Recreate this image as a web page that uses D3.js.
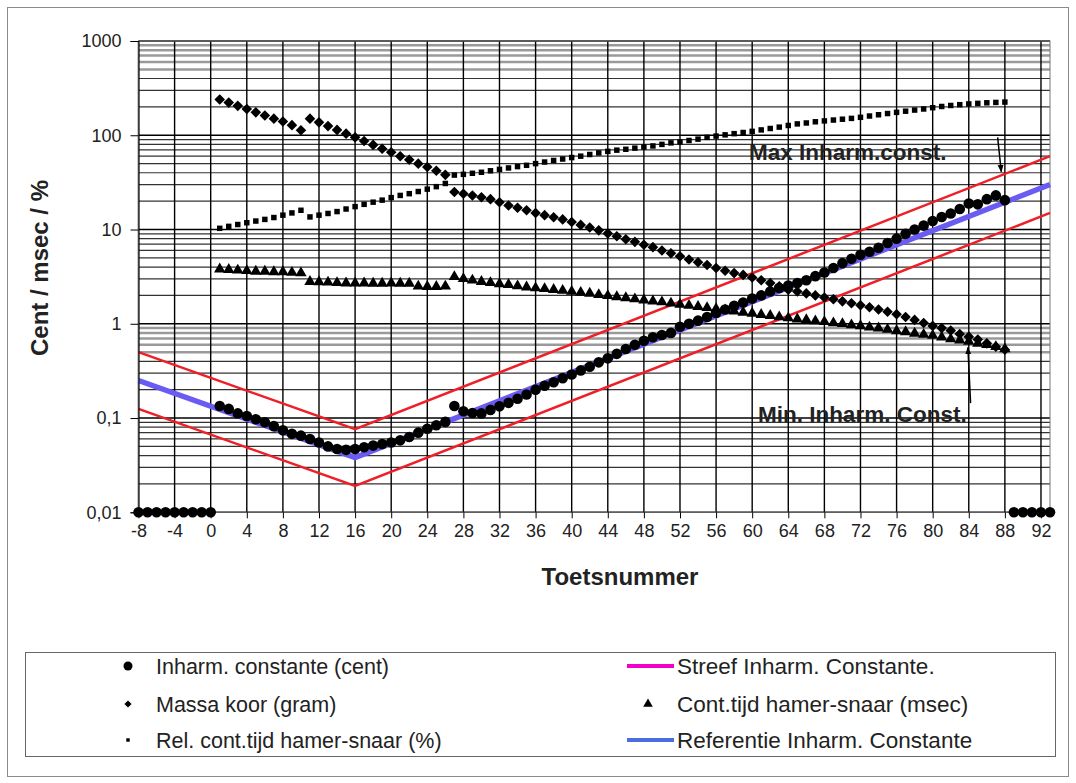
<!DOCTYPE html>
<meta charset="utf-8">
<script src="https://d3js.org/d3.v7.min.js"></script>
<style>
  body { margin: 0; background: #fff; }
  text { font-family: "Liberation Sans", Arial, sans-serif; }
</style>
<div id="chart"></div>
<script>

// key numbers 1..88 (Toetsnummer)
var keys = d3.range(1, 89);

// Inharm. constante (cent)
var inharm = [0.134, 0.125, 0.112, 0.105, 0.097, 0.09, 0.082, 0.074, 0.068, 0.065,
  0.06, 0.055, 0.05, 0.047, 0.046, 0.047, 0.049, 0.051, 0.053, 0.055,
  0.058, 0.063, 0.07, 0.077, 0.084, 0.091, 0.134, 0.118, 0.113, 0.112,
  0.122, 0.133, 0.145, 0.16, 0.178, 0.2, 0.22, 0.24, 0.265, 0.29,
  0.32, 0.35, 0.39, 0.43, 0.48, 0.54, 0.6, 0.66, 0.72, 0.76,
  0.8, 0.93, 1.0, 1.08, 1.18, 1.3, 1.42, 1.55, 1.68, 1.85,
  2.0, 2.2, 2.4, 2.55, 2.7, 2.9, 3.2, 3.5, 3.9, 4.4,
  4.9, 5.4, 5.8, 6.4, 7.2, 8.0, 9.0, 10.0, 11.0, 12.3,
  13.6, 14.8, 16.5, 18.9, 18.5, 21, 23, 20.5];
// keys without a value, drawn on the axis minimum
var inharmEmptyKeys = [-8, -7, -6, -5, -4, -3, -2, -1, 0, 89, 90, 91, 92, 93];

// Massa koor (gram)
var massa = [240, 222, 205, 190, 175, 162, 150, 140, 128, 113,
  150, 137, 125, 114, 104, 95, 87, 79, 72, 66,
  60, 55, 50, 46, 42, 38, 25, 24, 23, 22,
  21, 19.5, 18, 17, 16, 15, 14.2, 13.5, 12.8, 12,
  11.2, 10.5, 9.8, 9.1, 8.5, 7.9, 7.4, 6.9, 6.5, 6.0,
  5.6, 5.2, 4.8, 4.5, 4.2, 3.9, 3.65, 3.45, 3.3, 3.1,
  2.9, 2.7, 2.5, 2.3, 2.2, 2.1, 2.0, 1.9, 1.82, 1.73,
  1.65, 1.57, 1.5, 1.42, 1.34, 1.26, 1.18, 1.1, 1.02, 0.95,
  0.9, 0.85, 0.78, 0.73, 0.68, 0.62, 0.57, 0.53];

// Rel. cont.tijd hamer-snaar (%)
var relTijd = [10.3, 10.8, 11.3, 11.8, 12.3, 12.8, 13.4, 14.2, 15, 16,
  13.6, 14.2, 14.8, 15.5, 16.5, 17.5, 18.5, 19.5, 20.5, 21.8,
  23, 24, 25.3, 26.8, 28.5, 30.8, 37.8, 38.5, 39.5, 40.5,
  42, 43.5, 45, 46.5, 48, 50, 52, 54, 56, 58,
  60, 62.5, 65, 67.5, 69.5, 71, 73, 75, 77, 80,
  83, 85, 88, 91, 95, 98, 101, 104, 107, 110,
  114, 118, 122, 127, 132, 135, 139, 142, 145, 148,
  151, 155, 160, 165, 170, 175, 180, 185, 190, 196,
  202, 207, 211, 215, 218, 221, 223, 225];

// Cont.tijd hamer-snaar (msec)
var contTijd = [3.8, 3.75, 3.7, 3.65, 3.6, 3.6, 3.55, 3.55, 3.5, 3.45,
  2.8, 2.78, 2.76, 2.72, 2.7, 2.7, 2.7, 2.68, 2.68, 2.7,
  2.68, 2.68, 2.5, 2.48, 2.48, 2.5, 3.15, 3.0, 2.9, 2.8,
  2.72, 2.65, 2.6, 2.52, 2.45, 2.4, 2.35, 2.3, 2.25, 2.2,
  2.15, 2.1, 2.03, 1.98, 1.93, 1.88, 1.83, 1.78, 1.74, 1.7,
  1.65, 1.6, 1.56, 1.52, 1.48, 1.44, 1.4, 1.36, 1.32, 1.29,
  1.25, 1.22, 1.18, 1.15, 1.12, 1.1, 1.07, 1.05, 1.02, 1.0,
  0.97, 0.95, 0.92, 0.9, 0.87, 0.84, 0.82, 0.79, 0.77, 0.75,
  0.72, 0.69, 0.67, 0.65, 0.62, 0.6, 0.57, 0.54];

// Referentie / Streef lines (break points)
var refKeys = [-8, 16, 93];
var refValues = [0.25, 0.038, 30];
var streefMaxValues = [0.5, 0.076, 60];
var streefMinValues = [0.125, 0.019, 15];

// axis ticks
var xTicks = d3.range(-8, 93, 4);
var yTicks = [0.01, 0.1, 1, 10, 100, 1000];
var yTickLabels = ["0,01", "0,1", "1", "10", "100", "1000"];

var legendItems = [
  {label: "Inharm. constante (cent)", type: "circle", col: 0, row: 0},
  {label: "Massa koor  (gram)", type: "diamond", col: 0, row: 1},
  {label: "Rel. cont.tijd hamer-snaar (%)", type: "square", col: 0, row: 2},
  {label: "Streef Inharm. Constante.", type: "line", color: "#f000c8", col: 1, row: 0},
  {label: "Cont.tijd hamer-snaar (msec)", type: "triangle", col: 1, row: 1},
  {label: "Referentie Inharm. Constante", type: "line", color: "#4a6ee0", col: 1, row: 2}
];

var W = 1076, H = 783;
var plot = {left: 138.5, right: 1050, top: 41, bottom: 512.3};

var svg = d3.select("#chart").append("svg")
  .attr("width", W).attr("height", H);

// outer frame
svg.append("rect")
  .attr("x", 7.5).attr("y", 7.5).attr("width", 1061).attr("height", 769)
  .attr("fill", "#fff").attr("stroke", "#8a8a8a");

var x = d3.scaleLinear().domain([-8, 93]).range([plot.left, plot.right]);
var y = d3.scaleLog().domain([0.01, 1000]).range([plot.bottom, plot.top]);

var g = svg.append("g");

// minor horizontal grid (the upper lines of some decades look grey)
var minor = [];
[0.01, 0.1, 1, 10, 100].forEach(function(dec) {
  for (var m = 2; m <= 9; m++) minor.push({v: dec * m, grey: m >= 5 && (dec === 0.1 || dec === 100)});
});
g.selectAll(".minor").data(minor).enter().append("line")
  .attr("x1", plot.left).attr("x2", plot.right)
  .attr("y1", function(d) { return y(d.v); }).attr("y2", function(d) { return y(d.v); })
  .attr("stroke", function(d) { return d.grey ? "#9a9a9a" : "#333"; })
  .attr("stroke-width", function(d) { return d.grey ? 2.5 : 1.2; });

// major horizontal grid
g.selectAll(".major").data(yTicks).enter().append("line")
  .attr("x1", plot.left).attr("x2", plot.right)
  .attr("y1", function(d) { return y(d); }).attr("y2", function(d) { return y(d); })
  .attr("stroke", "#000").attr("stroke-width", 1.4);

// vertical grid
g.selectAll(".vgrid").data(xTicks).enter().append("line")
  .attr("x1", function(d) { return x(d); }).attr("x2", function(d) { return x(d); })
  .attr("y1", plot.top).attr("y2", plot.bottom)
  .attr("stroke", "#000").attr("stroke-width", 1.4);

// plot border
g.append("rect")
  .attr("x", plot.left).attr("y", plot.top)
  .attr("width", plot.right - plot.left).attr("height", plot.bottom - plot.top)
  .attr("fill", "none").attr("stroke", "#777");

// axes
var xAxis = svg.append("g")
  .attr("transform", "translate(0," + plot.bottom + ")")
  .call(d3.axisBottom(x).tickValues(xTicks).tickSize(6).tickPadding(6)
    .tickFormat(function(d) { return String(d); }));
var yAxis = svg.append("g")
  .attr("transform", "translate(" + plot.left + ",0)")
  .call(d3.axisLeft(y).tickValues(yTicks).tickSize(8).tickPadding(9)
    .tickFormat(function(d, i) { return yTickLabels[i]; }));
[xAxis, yAxis].forEach(function(a) {
  a.select(".domain").attr("stroke", "#000");
  a.selectAll("text").attr("font-size", 18).attr("fill", "#222")
    .style("font-family", "'Liberation Sans', Arial, sans-serif");
});
xAxis.select(".domain").remove();

// lines
var line = d3.line()
  .x(function(d) { return x(d[0]); })
  .y(function(d) { return y(d[1]); });

[streefMaxValues, streefMinValues].forEach(function(vals) {
  g.append("path")
    .attr("d", line(d3.zip(refKeys, vals)))
    .attr("fill", "none").attr("stroke", "#ee1f26").attr("stroke-width", 2.5);
});
g.append("path")
  .attr("d", line(d3.zip(refKeys, refValues)))
  .attr("fill", "none").attr("stroke", "#6a5cf2").attr("stroke-width", 5.5);

// markers
function drawSymbols(data, type, size, rotate) {
  g.append("g").selectAll("path").data(data).enter().append("path")
    .attr("d", d3.symbol().type(type).size(size))
    .attr("transform", function(d) {
      return "translate(" + x(d[0]) + "," + y(d[1]) + ")" + (rotate ? " rotate(45)" : "");
    })
    .attr("fill", "#000");
}
drawSymbols(d3.zip(keys, massa), d3.symbolSquare, 56, true);
drawSymbols(d3.zip(keys, relTijd), d3.symbolSquare, 30, false);
drawSymbols(d3.zip(keys, contTijd), d3.symbolTriangle, 56, false);

g.append("g").selectAll("circle")
  .data(d3.zip(keys, inharm).concat(inharmEmptyKeys.map(function(k) { return [k, 0.01]; })))
  .enter().append("circle")
  .attr("cx", function(d) { return x(d[0]); })
  .attr("cy", function(d) { return y(d[1]); })
  .attr("r", 5.3).attr("fill", "#000");

// annotations
svg.append("defs").append("marker")
  .attr("id", "arrow").attr("viewBox", "0 0 10 10")
  .attr("refX", 9).attr("refY", 5)
  .attr("markerWidth", 5).attr("markerHeight", 7).attr("orient", "auto")
  .append("path").attr("d", "M0,1 L10,5 L0,9 z").attr("fill", "#000");

svg.append("line")
  .attr("x1", x(87.2)).attr("y1", y(95)).attr("x2", x(87.6)).attr("y2", y(41))
  .attr("stroke", "#000").attr("stroke-width", 1.5).attr("marker-end", "url(#arrow)");
svg.append("text").attr("x", x(70.6)).attr("y", y(54))
  .attr("text-anchor", "middle").attr("font-size", 22.5).attr("font-weight", "bold")
  .attr("fill", "#222").text("Max Inharm.const.");

svg.append("line")
  .attr("x1", x(84.2)).attr("y1", y(0.144)).attr("x2", x(83.9)).attr("y2", y(0.56))
  .attr("stroke", "#000").attr("stroke-width", 1.5).attr("marker-end", "url(#arrow)");
svg.append("text").attr("x", x(72.2)).attr("y", y(0.09))
  .attr("text-anchor", "middle").attr("font-size", 22.5).attr("font-weight", "bold")
  .attr("fill", "#222").text("Min. Inharm. Const.");

// axis titles
svg.append("text")
  .attr("transform", "translate(48,268) rotate(-90)")
  .attr("text-anchor", "middle").attr("font-size", 24).attr("font-weight", "bold")
  .attr("fill", "#222").text("Cent / msec / %");
svg.append("text")
  .attr("x", 620).attr("y", 585)
  .attr("text-anchor", "middle").attr("font-size", 24).attr("font-weight", "bold")
  .attr("fill", "#222").text("Toetsnummer");

// legend
var lg = svg.append("g");
lg.append("rect").attr("x", 25.5).attr("y", 652.5).attr("width", 1030).attr("height", 104)
  .attr("fill", "#fff").attr("stroke", "#666");

var colSym = [128, 648], colText = [156, 677], rowY = [666, 704, 740];
var colFont = [21.5, 22.5];
legendItems.forEach(function(it) {
  var sx = colSym[it.col], sy = rowY[it.row];
  if (it.type === "circle") {
    lg.append("circle").attr("cx", sx).attr("cy", sy).attr("r", 4.5).attr("fill", "#000");
  } else if (it.type === "diamond") {
    lg.append("path").attr("d", d3.symbol().type(d3.symbolSquare).size(26))
      .attr("transform", "translate(" + sx + "," + sy + ") rotate(45)").attr("fill", "#000");
  } else if (it.type === "square") {
    lg.append("path").attr("d", d3.symbol().type(d3.symbolSquare).size(12))
      .attr("transform", "translate(" + sx + "," + sy + ")").attr("fill", "#000");
  } else if (it.type === "triangle") {
    lg.append("path").attr("d", d3.symbol().type(d3.symbolTriangle).size(40))
      .attr("transform", "translate(" + sx + "," + sy + ")").attr("fill", "#000");
  } else {
    lg.append("line").attr("x1", 627).attr("x2", 674).attr("y1", sy).attr("y2", sy)
      .attr("stroke", it.color).attr("stroke-width", 4);
  }
  lg.append("text").attr("x", colText[it.col]).attr("y", sy).attr("dy", "0.35em")
    .attr("font-size", colFont[it.col]).attr("fill", "#222").text(it.label);
});

</script>
